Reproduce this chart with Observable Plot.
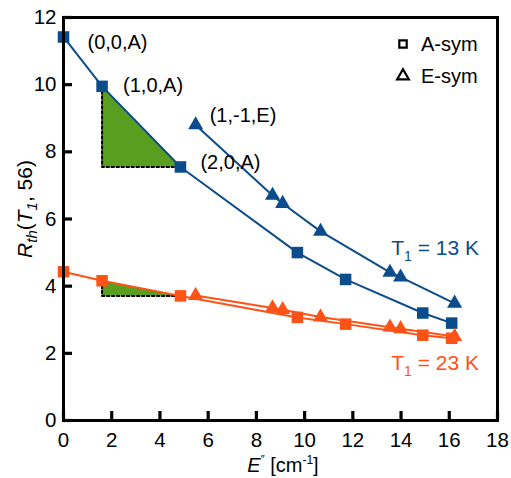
<!DOCTYPE html>
<html><head><meta charset="utf-8">
<script src="https://cdn.jsdelivr.net/npm/d3@7"></script>
<script src="https://cdn.jsdelivr.net/npm/@observablehq/plot@0.6"></script>
<style>body{margin:0;background:#fff} svg{display:block}</style>
</head><body><div id="chart"></div>
<script>
// Data
const energyA = [0, 1.6, 4.85, 9.7, 11.7, 14.9, 16.1];
const r13A = [11.42, 9.95, 7.55, 5.0, 4.2, 3.2, 2.9];
const r23A = [4.43, 4.16, 3.71, 3.07, 2.87, 2.54, 2.45];
const energyE = [5.48, 8.67, 9.09, 10.66, 13.54, 13.98, 16.22];
const r13E = [8.8, 6.7, 6.46, 5.63, 4.41, 4.27, 3.49];
const r23E = [3.72, 3.35, 3.30, 3.08, 2.78, 2.73, 2.50];
const xTicks = [0, 2, 4, 6, 8, 10, 12, 14, 16, 18];
const yTicks = [0, 2, 4, 6, 8, 10, 12];
const pointLabels = ["(0,0,A)", "(1,0,A)", "(2,0,A)", "(1,-1,E)"];
const seriesLabels = ["13 K", "23 K"];
const legendLabels = ["A-sym", "E-sym"];

const BLUE = "#0a4c8c", ORANGE = "#ff5216", GREEN = "#5a9e20";
const FONT = "'Liberation Sans', Arial, Helvetica, sans-serif";

const W = 511, H = 478, ML = 63, MR = 14, MT = 17, MB = 58, TICK = 9;

const rows = (xs, ys) => xs.map((x, i) => ({x, y: ys[i]}));
const s13A = rows(energyA, r13A), s23A = rows(energyA, r23A);
const s13E = rows(energyE, r13E), s23E = rows(energyE, r23E);

// green triangles between points 1 and 2 of A-sym series
const tri = (ys) => [
  {x: energyA[1], y1: ys[2], y2: ys[1]},
  {x: energyA[2], y1: ys[2], y2: ys[2]}
];
const legs = (ys) => [
  {x: energyA[1], y: ys[1]},
  {x: energyA[1], y: ys[2]},
  {x: energyA[2], y: ys[2]}
];

const lbl = (label, point, dx, dy) => Plot.text([point], {
  x: "x", y: "y", text: () => label, dx, dy,
  textAnchor: "start", fontSize: 20, fill: "#000"
});

const chart = Plot.plot({
  width: W, height: H,
  marginLeft: ML, marginRight: MR, marginTop: MT, marginBottom: MB,
  x: {domain: [0, 18]},
  y: {domain: [0, 12]},
  style: {fontFamily: FONT, fontSize: "20px", color: "#000", background: "#fff"},
  marks: [
    Plot.areaY(tri(r13A), {x: "x", y1: "y1", y2: "y2", fill: GREEN, curve: "linear"}),
    Plot.areaY(tri(r23A), {x: "x", y1: "y1", y2: "y2", fill: GREEN, curve: "linear"}),
    Plot.line(legs(r13A), {x: "x", y: "y", stroke: "#000", strokeWidth: 2, strokeDasharray: "2.5,2.5"}),
    Plot.line(legs(r23A), {x: "x", y: "y", stroke: "#000", strokeWidth: 2, strokeDasharray: "2.5,2.5"}),
    Plot.line(s13A, {x: "x", y: "y", stroke: BLUE, strokeWidth: 2}),
    Plot.line(s13E, {x: "x", y: "y", stroke: BLUE, strokeWidth: 2}),
    Plot.line(s23A, {x: "x", y: "y", stroke: ORANGE, strokeWidth: 2}),
    Plot.line(s23E, {x: "x", y: "y", stroke: ORANGE, strokeWidth: 2}),
    Plot.dot(s13A, {x: "x", y: "y", symbol: "square", r: 6.5, fill: BLUE}),
    Plot.dot(s23A, {x: "x", y: "y", symbol: "square", r: 6.5, fill: ORANGE}),
    Plot.dot(s13E, {x: "x", y: "y", symbol: "triangle", r: 5.6, fill: BLUE}),
    Plot.dot(s23E, {x: "x", y: "y", symbol: "triangle", r: 5.6, fill: ORANGE}),
    lbl(pointLabels[0], s13A[0], 24, 6),
    lbl(pointLabels[1], s13A[1], 21, -1),
    lbl(pointLabels[2], s13A[2], 20, -4),
    lbl(pointLabels[3], s13E[0], 14, -9),
    // inward ticks
    Plot.tickX(xTicks, {x: d => d, stroke: "#000", strokeWidth: 3.2, insetTop: (H - MT - MB) - TICK}),
    Plot.tickY(yTicks, {y: d => d, stroke: "#000", strokeWidth: 3.2, insetRight: (W - ML - MR) - TICK}),
    // tick labels
    Plot.axisX({ticks: xTicks, tickSize: 0, tickPadding: 12, label: null, fontSize: 20.5}),
    Plot.axisY({ticks: yTicks, tickSize: 0, tickPadding: 7, label: null, fontSize: 20.5}),
    Plot.frame({strokeWidth: 3, stroke: "#000"})
  ]
});

const svg = d3.select(chart).attr("font-family", FONT);

// y axis label: R_th(T_1, 56)
const yl = svg.append("text")
  .attr("transform", "translate(32,209) rotate(-90)")
  .attr("text-anchor", "middle").attr("font-size", 21).attr("fill", "#000");
yl.append("tspan").attr("font-style", "italic").text("R");
yl.append("tspan").attr("font-style", "italic").attr("font-size", 15).attr("dy", 5).text("th");
yl.append("tspan").attr("dy", -5).text("(");
yl.append("tspan").attr("font-style", "italic").text("T");
yl.append("tspan").attr("font-style", "italic").attr("font-size", 15).attr("dy", 5).text("1");
yl.append("tspan").attr("dy", -5).text(", 56)");

// x axis label: E'' [cm^-1]
const xl = svg.append("text")
  .attr("x", 283).attr("y", 472)
  .attr("text-anchor", "middle").attr("font-size", 20).attr("fill", "#000");
xl.append("tspan").attr("font-style", "italic").text("E");
xl.append("tspan").attr("font-size", 11).attr("dy", -9).text("\u2033");
xl.append("tspan").attr("dy", 9).text(" [cm");
xl.append("tspan").attr("font-size", 12).attr("dy", -8).text("-1");
xl.append("tspan").attr("dy", 8).text("]");

// series labels
function seriesLabel(label, color, yPix) {
  const t = svg.append("text").attr("x", 479).attr("y", yPix)
    .attr("text-anchor", "end").attr("font-size", 21).attr("fill", color);
  t.append("tspan").text("T");
  t.append("tspan").attr("font-size", 14).attr("dy", 6).text("1");
  t.append("tspan").attr("dy", -6).text(" = " + label);
}
seriesLabel(seriesLabels[0], BLUE, 255);
seriesLabel(seriesLabels[1], ORANGE, 370);

// legend
const legSyms = [d3.symbolSquare, d3.symbolTriangle];
const legY = [44, 76];
legendLabels.forEach((name, i) => {
  svg.append("path")
    .attr("d", d3.symbol(legSyms[i], i === 0 ? 55 : 60)())
    .attr("transform", `translate(403,${legY[i]})`)
    .attr("fill", "#fff").attr("stroke", "#000").attr("stroke-width", 2.2);
  svg.append("text").attr("x", 421).attr("y", legY[i]).attr("dy", "0.36em")
    .attr("text-anchor", "start")
    .attr("font-size", 20).attr("fill", "#000").text(name);
});

document.getElementById("chart").append(chart);
</script>
</body></html>
